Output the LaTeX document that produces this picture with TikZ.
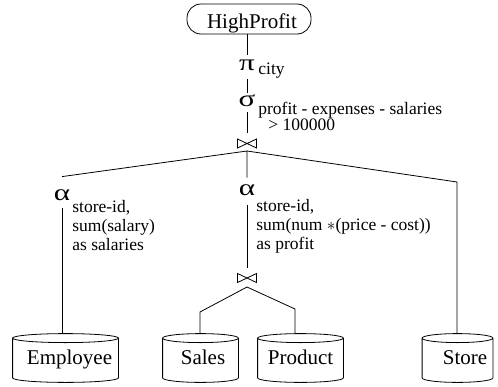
\documentclass[tikz,border=0pt]{standalone}
\usepackage{graphicx}
\usepackage{fontspec}
\setmainfont{Liberation Serif}
\usetikzlibrary{calc}
% glyph centred on node, moved down by #2
\newcommand\glyph[2]{\raisebox{\dimexpr-.5ex-#2\relax}{\scalebox{1.35}[1]{#1}}}
% text with caps centred on node, shifted right by half of #1 and down by #2
\newcommand\ctext[3]{\raisebox{\dimexpr-.33em-#2\relax}{\makebox[0pt]{\hspace*{#1}#3}}}
\newcommand\cyl[1]{%
  \draw let \p1=(#1.west), \p2=(#1.east), \n1={(\x2-\x1)/2} in
    ([yshift=-4.5pt]#1.north) ellipse [x radius=\n1, y radius=4.5pt]
    ([yshift=-4.5pt]#1.north west) -- ([yshift=4.5pt]#1.south west)
    arc [start angle=180, end angle=360, x radius=\n1, y radius=4.5pt]
    -- ([yshift=-4.5pt]#1.north east);}
\newcommand\btdraw[1]{%
  \draw (#1.north west) -- (#1.south west) -- (#1.north east) -- (#1.south east) -- cycle;}
\begin{document}
\begin{tikzpicture}[x=1pt,y=-1pt,line width=0.8pt,
  mainfont/.style={font=\fontsize{21}{24}\selectfont},
  term/.style={mainfont,draw,rounded corners=14pt,inner sep=0pt,text height=0pt,text depth=0pt},
  db/.style={mainfont,inner sep=0pt,minimum height=48pt,text height=0pt,text depth=0pt},
  greek/.style={inner sep=0pt,minimum width=16pt,text height=0pt,text depth=0pt,font=\fontsize{23}{24}\selectfont},
  lab/.style={anchor=base west,inner sep=0pt,font=\fontsize{17.5}{19}\selectfont},
  siglab/.style={anchor=base west,inner sep=0pt,font=\fontsize{17.5}{15}\selectfont},
  bowtie/.style={inner sep=0pt,outer sep=0pt,minimum width=19pt,minimum height=9pt}]
\useasboundingbox (0,0) rectangle (498,386);

% top
\node[term,minimum width=124pt,minimum height=30pt] (hp) at (249,19) {\ctext{6pt}{2.5pt}{HighProfit}};
\node[greek,minimum height=24pt] (pi) at (247,67) {\glyph{π}{-2pt}};
\node[lab] (pilab) at (258,74) {city};
\node[greek,minimum height=19pt] (sig) at (247,102.5) {\glyph{σ}{-1.5pt}};
\node[siglab] (siglabel) at (258,114) {\begin{tabular}[t]{@{}l@{}}profit - expenses - salaries\\\hspace*{10pt}> 100000\end{tabular}};
\node[bowtie] (j1) at (247,143.5) {};
\btdraw{j1}
\coordinate (j1b) at (247,151);

% aggregations
\node[greek,minimum height=31pt] (a1) at (62,192.5) {\glyph{α}{2.5pt}};
\node[lab] (a1lab) at (72,212) {\begin{tabular}[t]{@{}l@{}}store-id,\\sum(salary)\\as salaries\end{tabular}};
\node[greek,minimum height=27pt] (a2) at (247,191.5) {\glyph{α}{-1.5pt}};
\node[lab] (a2lab) at (256,211) {\begin{tabular}[t]{@{}l@{}}store-id,\\sum(num $\ast$(price - cost))\\as profit\end{tabular}};
\coordinate (r1) at (457,182);

\node[bowtie] (j2) at (247,278) {};
\btdraw{j2}
\coordinate (j2b) at (247,287);
\coordinate (s1) at (200,312);
\coordinate (p1) at (295,309);

% relations
\node[db,minimum width=105pt] (emp) at (65.5,358) {\ctext{8pt}{0pt}{Employee}};
\node[db,minimum width=75pt] (sales) at (200.5,358) {\ctext{5pt}{0pt}{Sales}};
\node[db,minimum width=85pt] (prod) at (300.5,358) {\ctext{0pt}{0pt}{Product}};
\node[db,minimum width=70pt] (store) at (457.5,358) {\ctext{15pt}{0pt}{Store}};
\cyl{emp}\cyl{sales}\cyl{prod}\cyl{store}

% connectors
\draw (pi |- hp.south) -- (pi.north);
\draw (pi.south) -- (sig.north);
\draw (sig.south) -- ([yshift=6pt]j1.north);
\draw (a1.north) -- (j1b) -- (a2.north);
\draw (j1b) -- (r1) -- (r1 |- store.north);
\draw (a1.south) -- (a1.south |- emp.north);
\draw (a2.south) -- ([yshift=5.5pt]j2.north);
\draw (s1 |- sales.north) -- (s1) -- (j2b) -- (p1) -- (p1 |- prod.north);
\end{tikzpicture}
\end{document}
